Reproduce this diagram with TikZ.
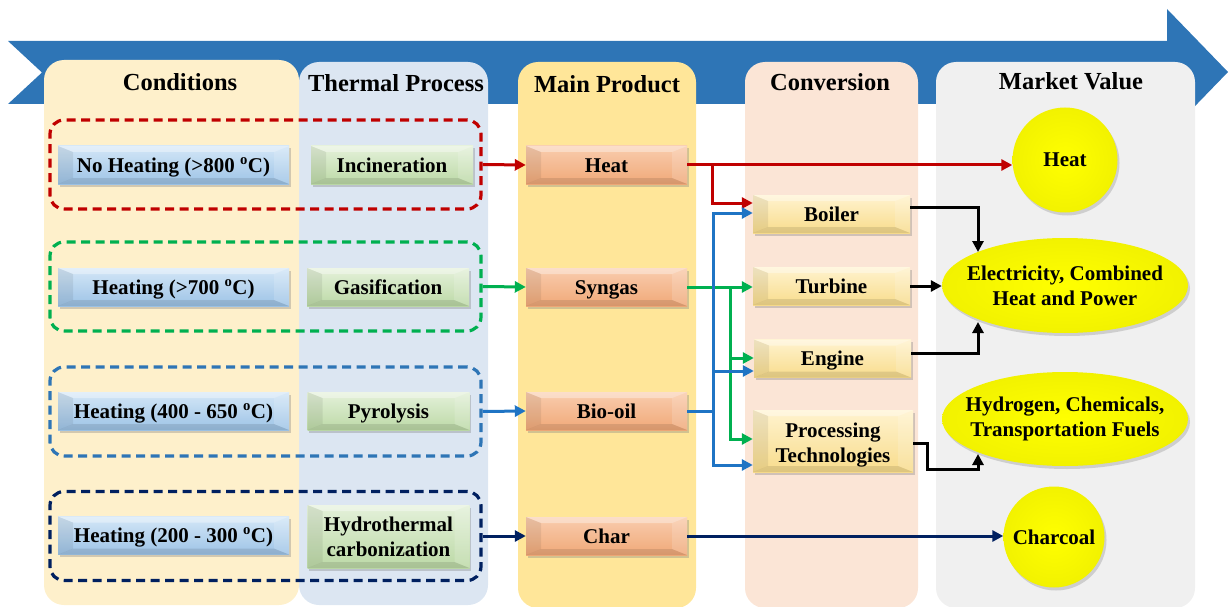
\documentclass[tikz,border=0pt]{standalone}
\usepackage{fontspec}
\setmainfont{Liberation Serif}
\usetikzlibrary{arrows.meta,shapes.geometric,shadows,calc}

% palette
\definecolor{bandBlue}{HTML}{2E75B6}
\definecolor{condBg}{HTML}{FEF0CB}
\definecolor{procBg}{HTML}{DCE6F2}
\definecolor{prodBg}{HTML}{FFE699}
\definecolor{convBg}{HTML}{FBE5D6}
\definecolor{mktBg}{HTML}{F0F0F0}
\definecolor{cRed}{HTML}{C00000}
\definecolor{cGreen}{HTML}{00B050}
\definecolor{cBlue}{HTML}{1F74C4}
\definecolor{cGroupBlue}{HTML}{2E75B6}
\definecolor{cNavy}{HTML}{002060}
\definecolor{condTop}{HTML}{D4E7F7}
\definecolor{condBot}{HTML}{9DC3E6}
\definecolor{procTop}{HTML}{E4F1DA}
\definecolor{procBot}{HTML}{BCD9A6}
\definecolor{prodTop}{HTML}{F9CDAE}
\definecolor{prodBot}{HTML}{F0A878}
\definecolor{convTop}{HTML}{FFF3CF}
\definecolor{convBot}{HTML}{F8DC8C}
\definecolor{ballYellow}{HTML}{FFFF00}
\definecolor{ballEdge}{HTML}{F2F200}

\tikzset{
  panel/.style={rounded corners=20pt},
  heading/.style={font=\bfseries\fontsize{24.5}{28}\selectfont, inner sep=0pt},
  group/.style={draw=#1, line width=3.2pt, dash pattern=on 9pt off 5.5pt,
    rounded corners=14pt, minimum width=431, minimum height=89, inner sep=0pt},
  bevelbox/.style 2 args={top color=#1, bottom color=#2, draw=none,
    inner sep=0pt, minimum height=38, align=center,
    text height=19pt, text depth=5pt,
    drop shadow={shadow xshift=1.5pt, shadow yshift=-2.5pt, opacity=0.35},
    path picture={
      \fill[white, opacity=0.35]
        (path picture bounding box.north west) -- (path picture bounding box.north east)
        -- ([xshift=-15pt, yshift=-6pt]path picture bounding box.north east)
        -- ([xshift=15pt, yshift=-6pt]path picture bounding box.north west) -- cycle;
      \fill[black, opacity=0.07]
        (path picture bounding box.north west)
        -- ([xshift=15pt, yshift=-6pt]path picture bounding box.north west)
        -- ([xshift=15pt, yshift=6pt]path picture bounding box.south west)
        -- (path picture bounding box.south west) -- cycle;
      \fill[white, opacity=0.15]
        (path picture bounding box.north east)
        -- ([xshift=-15pt, yshift=-6pt]path picture bounding box.north east)
        -- ([xshift=-15pt, yshift=6pt]path picture bounding box.south east)
        -- (path picture bounding box.south east) -- cycle;
      \fill[black, opacity=0.10]
        (path picture bounding box.south west) -- (path picture bounding box.south east)
        -- ([xshift=-15pt, yshift=6pt]path picture bounding box.south east)
        -- ([xshift=15pt, yshift=6pt]path picture bounding box.south west) -- cycle;
    }},
  condbox/.style={bevelbox={condTop}{condBot}, minimum width=231},
  procbox/.style={bevelbox={procTop}{procBot}, minimum width=162},
  prodbox/.style={bevelbox={prodTop}{prodBot}, minimum width=161},
  convbox/.style={bevelbox={convTop}{convBot}, minimum width=157},
  market/.style={ellipse, inner sep=0pt,
    inner color=ballYellow, outer color=ballEdge,
    drop shadow={shadow xshift=2pt, shadow yshift=-3pt, opacity=0.3},
    label={[align=center, inner sep=0pt]center:#1}},
  conn/.style={draw=#1, line width=3pt,
    -{Triangle[length=11pt, width=11pt]}},
  feed/.style={draw=#1, line width=3pt},
}

\begin{document}
\begin{tikzpicture}[x=1pt, y=-1pt, font=\bfseries\fontsize{21}{25}\selectfont]
\useasboundingbox (0,0) rectangle (1229,607);

% process direction band
\fill[bandBlue] (8,41) -- (1167,41) -- (1167,9) -- (1228,72) -- (1167,135)
  -- (1167,104) -- (8,104) -- (42,72.5) -- cycle;

% column panels
\fill[procBg, panel] (299,62) rectangle (488,605);
\fill[condBg, panel] (44,60) rectangle (299,605);
\fill[prodBg, panel] (518,62) rectangle (696,608);
\fill[convBg, panel] (745,62) rectangle (918,608);
\fill[mktBg, panel] (936,62) rectangle (1195,608);

% column headings
\node[heading] (hCond) at (180,82) {Conditions};
\node[heading] (hProc) at (396,83) {Thermal Process};
\node[heading] (hProd) at (607,84) {Main Product};
\node[heading] (hConv) at (830,82) {Conversion};
\node[heading] (hMkt)  at (1071,81) {Market Value};

% dashed route groups
\node[group=cRed]       (gRed)   at (265.5,164.5) {};
\node[group=cGreen]     (gGreen) at (265.5,286.5) {};
\node[group=cGroupBlue] (gBlue)  at (265.5,411.5) {};
\node[group=cNavy]      (gNavy)  at (265.5,536) {};

% conditions
\node[condbox] (c1) at (173.5,165) {No Heating (>800 \textsuperscript{o}C)};
\node[condbox] (c2) at (173.5,287) {Heating (>700 \textsuperscript{o}C)};
\node[condbox] (c3) at (173.5,411) {Heating (400 - 650 \textsuperscript{o}C)};
\node[condbox] (c4) at (173.5,535.5) {Heating (200 - 300 \textsuperscript{o}C)};

% thermal processes
\node[procbox] (p1) at (392,165) {Incineration};
\node[procbox] (p2) at (388,287) {Gasification};
\node[procbox] (p3) at (388.5,411) {Pyrolysis};
\node[procbox, minimum height=63, text height=44pt] (p4) at (388.5,536.5) {Hydrothermal\\carbonization};

% main products
\node[prodbox] (heat)   at (606.5,165) {Heat};
\node[prodbox] (syngas) at (606.5,287) {Syngas};
\node[prodbox] (biooil) at (606.5,411) {Bio-oil};
\node[prodbox] (char)   at (606.5,536) {Char};

% conversion units
\node[convbox] (boiler)  at (831.5,214) {Boiler};
\node[convbox] (turbine) at (831.5,286) {Turbine};
\node[convbox] (engine)  at (832.5,358.5) {Engine};
\node[convbox, minimum width=160, minimum height=62, text height=47pt] (proc) at (833,441) {Processing\\Technologies};

% market values
\node[market={Heat}, minimum size=105] (mHeat) at (1065,160) {};
\node[market={Electricity, Combined\\Heat and Power}, minimum width=246, minimum height=95] (mElec) at (1065,285.5) {};
\node[market={Hydrogen, Chemicals,\\Transportation Fuels}, minimum width=246, minimum height=94] (mFuel) at (1065,419) {};
\node[market={Charcoal}, minimum size=101] (mChar) at (1054,537) {};

% junction points
\coordinate (jRed)   at (712,165);
\coordinate (jGreen) at (730,287);
\coordinate (jBlue)  at (713,411);

% group to product
\draw[conn=cRed]   (gRed.east)   -- (heat.west);
\draw[conn=cGreen] (gGreen.east) -- (syngas.west);
\draw[conn=cBlue]  (gBlue.east)  -- (biooil.west);
\draw[conn=cNavy]  (gNavy.east)  -- (char.west);

% heat routes
\draw[conn=cRed] (heat.east) -- (heat.east -| mHeat.west);
\draw[conn=cRed] (jRed) |- (boiler.west |- 0,203);

% syngas routes
\draw[conn=cGreen] (syngas.east) -- (syngas.east -| turbine.west);
\draw[conn=cGreen] (jGreen) |- (engine.west |- 0,358);
\draw[conn=cGreen] (jGreen) |- (proc.west |- 0,439);

% bio-oil routes
\draw[feed=cBlue] (biooil.east) -- (jBlue);
\draw[conn=cBlue] (jBlue) |- (boiler.west |- 0,213);
\draw[conn=cBlue] (jBlue) |- (engine.west |- 0,371);
\draw[conn=cBlue] (jBlue) |- (proc.west |- 0,465);

% char route
\draw[conn=cNavy] (char.east) -- (char.east -| mChar.west);

% conversion to market
\draw[conn=black] (boiler.east |- 0,207) -| (978,252);
\draw[conn=black] (turbine.east) -- (turbine.east -| mElec.west);
\draw[conn=black] (engine.east |- 0,353) -| (978,322);
\draw[conn=black] (proc.east |- 0,443) -| (927,469) -| (978,454);

\end{tikzpicture}
\end{document}
